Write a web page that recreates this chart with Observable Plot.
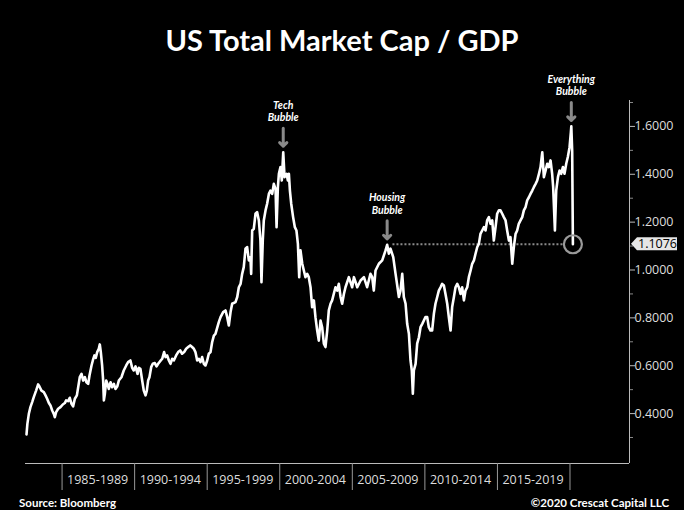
<!DOCTYPE html>
<html><head><meta charset="utf-8">
<script src="https://cdn.jsdelivr.net/npm/d3@7"></script>
<script src="https://cdn.jsdelivr.net/npm/@observablehq/plot@0.6"></script>
<style>
html,body{margin:0;padding:0;background:#000;}
#wrap{position:relative;width:684px;height:510px;background:#000;overflow:hidden;}
#title{position:absolute;left:0;top:22px;width:684px;text-align:center;color:#fff;font-family:Lato,sans-serif;font-weight:bold;font-size:29px;line-height:35px;}
#plot{position:absolute;left:0;top:72px;}
.foot{position:absolute;top:496px;font-family:Lato,sans-serif;font-weight:bold;font-size:11.5px;color:#fff;line-height:13px;}
</style></head>
<body><div id="wrap">
<div id="title">US Total Market Cap / GDP</div>
<div id="plot"></div>
<div class="foot" style="left:19px">Source: Bloomberg</div>
<div class="foot" style="right:15px">©2020 Crescat Capital LLC</div>
</div>
<script>
const years = [
1982.55,1982.61,1982.71,1982.82,1982.94,1983.05,1983.21,1983.35,1983.44,1983.58,
1983.74,1983.86,1983.97,1984.09,1984.20,1984.32,1984.43,1984.50,1984.59,1984.73,
1984.89,1985.05,1985.19,1985.28,1985.42,1985.53,1985.65,1985.76,1985.88,1986.02,
1986.11,1986.22,1986.34,1986.45,1986.57,1986.68,1986.80,1986.89,1987.03,1987.12,
1987.23,1987.32,1987.42,1987.53,1987.60,1987.67,1987.76,1987.83,1987.88,1987.95,
1988.04,1988.13,1988.22,1988.34,1988.45,1988.57,1988.68,1988.80,1988.91,1989.09,
1989.25,1989.42,1989.55,1989.71,1989.83,1989.94,1990.06,1990.20,1990.29,1990.40,
1990.52,1990.63,1990.75,1990.84,1990.93,1991.02,1991.14,1991.25,1991.39,1991.51,
1991.62,1991.76,1991.90,1992.03,1992.13,1992.24,1992.36,1992.47,1992.59,1992.70,
1992.86,1993.00,1993.14,1993.27,1993.41,1993.55,1993.69,1993.83,1993.96,1994.08,
1994.19,1994.31,1994.42,1994.54,1994.65,1994.77,1994.88,1995.00,1995.11,1995.23,
1995.34,1995.46,1995.57,1995.80,1995.92,1996.10,1996.26,1996.38,1996.49,1996.61,
1996.72,1996.95,1997.07,1997.18,1997.30,1997.41,1997.52,1997.64,1997.75,1997.87,
1997.98,1998.03,1998.10,1998.21,1998.33,1998.44,1998.56,1998.67,1998.74,1998.83,
1998.90,1999.02,1999.13,1999.25,1999.36,1999.48,1999.59,1999.71,1999.78,1999.87,
1999.94,2000.05,2000.14,2000.24,2000.33,2000.47,2000.56,2000.63,2000.70,2000.79,
2000.92,2001.04,2001.15,2001.25,2001.34,2001.43,2001.55,2001.66,2001.77,2001.89,
2002.00,2002.12,2002.23,2002.35,2002.46,2002.58,2002.69,2002.81,2002.92,2003.04,
2003.15,2003.27,2003.38,2003.50,2003.61,2003.84,2003.96,2004.07,2004.19,2004.30,
2004.42,2004.53,2004.76,2004.99,2005.11,2005.34,2005.57,2005.80,2006.02,2006.25,
2006.37,2006.48,2006.60,2006.83,2007.06,2007.29,2007.40,2007.52,2007.63,2007.82,
2007.98,2008.21,2008.32,2008.44,2008.55,2008.67,2008.78,2008.90,2009.01,2009.10,
2009.17,2009.24,2009.36,2009.47,2009.59,2009.70,2009.82,2009.93,2010.04,2010.16,
2010.27,2010.39,2010.50,2010.62,2010.73,2010.85,2010.96,2011.08,2011.19,2011.31,
2011.42,2011.54,2011.65,2011.77,2011.88,2012.00,2012.11,2012.23,2012.34,2012.46,
2012.57,2012.69,2012.80,2012.92,2013.03,2013.15,2013.26,2013.38,2013.49,2013.61,
2013.72,2013.83,2013.95,2014.07,2014.18,2014.29,2014.41,2014.52,2014.64,2014.75,
2014.87,2014.98,2015.10,2015.21,2015.33,2015.44,2015.56,2015.67,2015.79,2015.90,
2016.02,2016.13,2016.25,2016.36,2016.47,2016.59,2016.71,2016.82,2016.94,2017.05,
2017.17,2017.28,2017.40,2017.51,2017.63,2017.74,2017.86,2017.97,2018.09,2018.20,
2018.32,2018.43,2018.54,2018.66,2018.77,2018.84,2018.96,2019.05,2019.17,2019.28,
2019.39,2019.51,2019.62,2019.74,2019.85,2019.97,2020.06,2020.09,2020.15,2020.20];
const values = [
0.313,0.357,0.399,0.427,0.448,0.469,0.496,0.522,0.513,0.496,
0.490,0.476,0.462,0.444,0.434,0.413,0.399,0.385,0.406,0.420,
0.427,0.438,0.444,0.455,0.452,0.466,0.441,0.430,0.462,0.476,
0.510,0.552,0.566,0.538,0.552,0.531,0.524,0.559,0.601,0.622,
0.643,0.633,0.657,0.671,0.689,0.657,0.601,0.538,0.455,0.483,
0.538,0.524,0.503,0.531,0.510,0.524,0.503,0.513,0.538,0.552,
0.580,0.601,0.615,0.622,0.591,0.580,0.597,0.566,0.591,0.587,
0.538,0.496,0.476,0.496,0.538,0.552,0.594,0.608,0.611,0.597,
0.608,0.619,0.629,0.657,0.636,0.643,0.622,0.608,0.629,0.622,
0.643,0.657,0.664,0.650,0.657,0.671,0.678,0.685,0.678,0.671,
0.657,0.622,0.629,0.615,0.636,0.608,0.601,0.622,0.650,0.657,
0.698,0.726,0.733,0.782,0.803,0.824,0.831,0.803,0.768,0.824,
0.859,0.866,0.887,0.928,0.942,0.984,1.012,1.089,1.096,1.040,
1.054,0.984,1.165,1.172,1.235,1.242,1.207,1.123,0.949,1.123,
1.207,1.249,1.277,1.318,1.332,1.318,1.360,1.339,1.179,1.346,
1.402,1.430,1.374,1.492,1.388,1.402,1.374,1.402,1.332,1.277,
1.221,1.179,1.165,1.109,0.970,1.082,1.026,0.998,0.970,0.984,
0.970,0.928,0.845,0.873,0.803,0.747,0.705,0.789,0.761,0.692,
0.678,0.747,0.831,0.859,0.873,0.928,0.914,0.942,0.887,0.859,
0.900,0.928,0.970,0.928,0.970,0.928,0.956,0.970,0.928,0.984,
0.970,0.914,0.998,1.026,1.040,1.082,1.105,1.068,1.089,1.054,
0.984,0.887,0.914,0.984,0.887,0.859,0.775,0.733,0.622,0.580,
0.483,0.580,0.608,0.692,0.719,0.761,0.775,0.789,0.803,0.803,
0.761,0.747,0.747,0.817,0.859,0.887,0.914,0.928,0.942,0.935,
0.900,0.859,0.803,0.747,0.845,0.887,0.928,0.942,0.928,0.900,
0.928,0.873,0.914,0.928,0.970,0.998,1.026,1.040,1.068,1.096,
1.109,1.151,1.165,1.179,1.165,1.207,1.221,1.193,1.207,1.123,
1.179,1.235,1.249,1.249,1.235,1.221,1.207,1.165,1.123,1.137,
1.026,1.096,1.151,1.165,1.193,1.207,1.221,1.249,1.263,1.291,
1.304,1.318,1.332,1.346,1.360,1.374,1.402,1.430,1.492,1.388,
1.416,1.444,1.430,1.458,1.402,1.346,1.165,1.332,1.388,1.416,
1.402,1.430,1.402,1.444,1.472,1.513,1.576,1.600,1.499,1.1076];

const periodStarts = [1985,1990,1995,2000,2005,2010,2015];
const periodLabels = ["1985-1989","1990-1994","1995-1999","2000-2004","2005-2009","2010-2014","2015-2019"];
const periodBreaks = [1985,1990,1995,2000,2005,2010,2015,2020];
const yTicks = [0.4,0.6,0.8,1.0,1.2,1.4,1.6];
const yMinorTicks = [0.3,0.5,0.7,0.9,1.1,1.3,1.5,1.7];

const annLabels = ["Tech\nBubble","Housing\nBubble","Everything\nBubble"];
const annYears = [2000.24,2007.40,2020.09];
const annValues = [1.492,1.105,1.600];

const refYearStart = 2007.40;
const lastYear = 2020.20;
const lastValue = 1.1076;

const xDomain = [1982.48, 2024.10];
const yDomain = [0.1914, 1.7083];

const chart = Plot.plot({
  width: 684, height: 424,
  marginLeft: 25, marginRight: 55, marginTop: 28, marginBottom: 33,
  style: {background: "#000", color: "#ddd", fontFamily: "'Open Sans', sans-serif", fontSize: "12.5px", overflow: "visible"},
  x: {domain: xDomain, label: null},
  y: {domain: yDomain, label: null},
  marks: [
    Plot.ruleY([yDomain[0]], {stroke: "#bbb", strokeWidth: 1}),
    Plot.ruleX([xDomain[1]], {stroke: "#bbb", strokeWidth: 1}),
    Plot.axisX({ticks: periodBreaks, tickSize: 27, tickFormat: () => "", stroke: "#999", strokeOpacity: 1}),
    Plot.text(periodLabels, {x: periodStarts, frameAnchor: "bottom", dy: 20, dx: 5, textAnchor: "start", fill: "#ddd", fontSize: 12.5}),
    Plot.axisY({anchor: "right", ticks: yMinorTicks, tickSize: 3, tickFormat: () => "", stroke: "#888", strokeOpacity: 1}),
    Plot.axisY({anchor: "right", ticks: yTicks, tickSize: 5, tickPadding: 0, tickFormat: d => d.toFixed(4), stroke: "#bbb", strokeOpacity: 1, fill: "#ddd", fontSize: 12.5}),
    Plot.ruleY([lastValue], {x1: refYearStart + 0.4, x2: lastYear - 0.65, stroke: "#8a8a8a", strokeWidth: 2, strokeDasharray: "2,2"}),
    Plot.line(years, {x: years, y: values, stroke: "#fff", strokeWidth: 2.6, strokeLinejoin: "round"}),
    Plot.dot([lastValue], {x: [lastYear], y: [lastValue], r: 9, stroke: "#9a9a9a", strokeWidth: 2.2, fill: "none"}),
    Plot.vector(annYears, {x: annYears, y: annValues, length: 18, rotate: 180, anchor: "end", dy: -6, stroke: "#8a8a8a", strokeWidth: 3}),
    Plot.text(annLabels, {x: annYears, y: annValues, dy: -31, lineAnchor: "bottom", fill: "#fff", fontWeight: "bold", fontStyle: "italic", fontSize: 10.5, lineHeight: 1.2, fontFamily: "Lato, sans-serif"})
  ]
});
document.getElementById("plot").appendChild(chart);

const svg = d3.select(chart);
const yPix = chart.scale("y").apply(lastValue);
const xA = 684 - 55;
const g = svg.append("g");
g.append("path")
  .attr("d", `M${xA + 2},${yPix} L${xA + 8},${yPix - 6.5} H${xA + 48} V${yPix + 6.5} H${xA + 8} Z`)
  .attr("fill", "#e6e6e6");
g.append("text")
  .attr("x", xA + 9).attr("y", yPix).attr("dy", "0.36em")
  .attr("text-anchor", "start")
  .attr("fill", "#000").attr("font-size", "12.5px").attr("font-family", "'Open Sans', sans-serif")
  .text(lastValue.toFixed(4));
</script>
</body></html>
